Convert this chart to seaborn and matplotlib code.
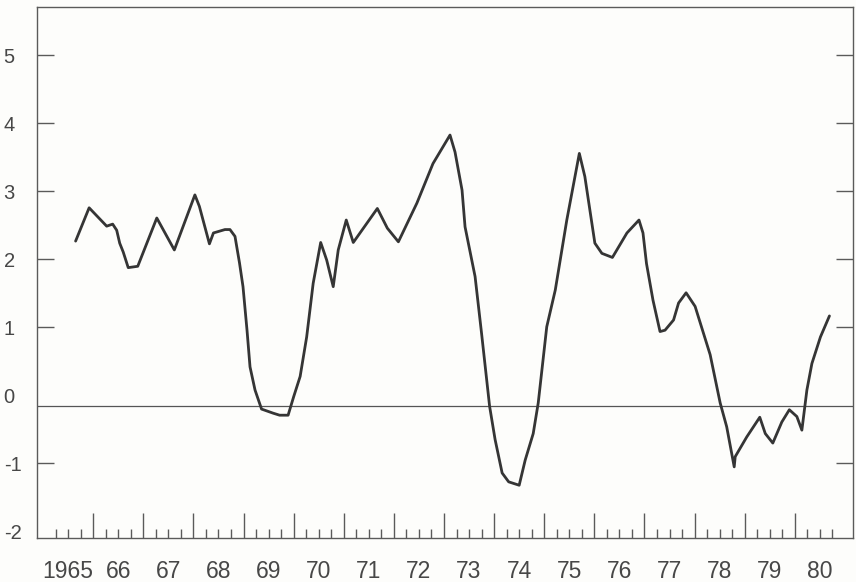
import numpy as np
import pandas as pd
import matplotlib
matplotlib.use("Agg")
import matplotlib.pyplot as plt
import seaborn as sns

# Series: decimal year and value
years = [1965.65, 1965.92, 1966.27, 1966.39, 1966.47, 1966.53, 1966.60, 1966.70,
         1966.89, 1967.27, 1967.62, 1968.03, 1968.12, 1968.32, 1968.40, 1968.63,
         1968.73, 1968.83, 1968.92, 1968.99, 1969.07, 1969.13, 1969.23, 1969.36,
         1969.59, 1969.72, 1969.89, 1970.00, 1970.13, 1970.26, 1970.39, 1970.54,
         1970.66, 1970.79, 1970.89, 1971.05, 1971.19, 1971.67, 1971.87, 1972.09,
         1972.46, 1972.78, 1973.12, 1973.22, 1973.36, 1973.42, 1973.62, 1973.75,
         1973.91, 1974.02, 1974.16, 1974.29, 1974.50, 1974.62, 1974.78, 1974.88,
         1975.05, 1975.22, 1975.45, 1975.70, 1975.81, 1976.01, 1976.15, 1976.36,
         1976.65, 1976.89, 1976.97, 1977.04, 1977.17, 1977.31, 1977.41, 1977.58,
         1977.68, 1977.83, 1978.01, 1978.31, 1978.51, 1978.64, 1978.79, 1978.81,
         1979.04, 1979.30, 1979.41, 1979.56, 1979.74, 1979.89, 1980.04, 1980.14,
         1980.24, 1980.34, 1980.51, 1980.69]
values = [2.27, 2.76, 2.49, 2.52, 2.43, 2.24, 2.11, 1.88,
          1.90, 2.61, 2.14, 2.95, 2.78, 2.23, 2.39, 2.44,
          2.44, 2.34, 1.95, 1.60, 0.96, 0.42, 0.08, -0.20,
          -0.26, -0.29, -0.29, -0.02, 0.28, 0.86, 1.65, 2.25,
          1.99, 1.60, 2.14, 2.58, 2.25, 2.75, 2.46, 2.26,
          2.83, 3.41, 3.83, 3.58, 3.02, 2.48, 1.75, 0.91,
          -0.16, -0.65, -1.14, -1.27, -1.32, -0.95, -0.56, -0.11,
          1.01, 1.55, 2.58, 3.56, 3.22, 2.24, 2.09, 2.03,
          2.39, 2.58, 2.39, 1.94, 1.40, 0.94, 0.96, 1.11,
          1.36, 1.51, 1.31, 0.60, -0.11, -0.46, -1.05, -0.90,
          -0.61, -0.32, -0.56, -0.70, -0.39, -0.21, -0.31, -0.51,
          0.08, 0.47, 0.86, 1.17]

year_labels = ["1965", "66", "67", "68", "69", "70", "71", "72",
               "73", "74", "75", "76", "77", "78", "79", "80"]
first_year = 1965
y_tick_values = [5, 4, 3, 2, 1, -1]
y_plain_labels = [0, -2]
reference_level = -0.15

df = pd.DataFrame({"year": years, "value": values})

sns.set_theme(style="ticks")
plt.rcParams["font.family"] = ["Liberation Sans", "DejaVu Sans"]

ink = "#353535"
frame = "#5a5a5a"
paper = "#fdfdfb"
text_col = "#474747"

fig = plt.figure(figsize=(8.56, 5.82), dpi=100, facecolor=paper)
ax = fig.add_axes([37 / 856, 1 - 538 / 582, (853 - 37) / 856, (538 - 7) / 582])
ax.set_facecolor(paper)

sns.lineplot(data=df, x="year", y="value", sort=False, estimator=None,
             color=ink, linewidth=2.0, ax=ax)
ax.axhline(reference_level, color="#555555", linewidth=0.9, zorder=1)

ax.set_xlim(1964.88, 1981.16)
ax.set_ylim(-2.096, 5.713)

for side in ["left", "right", "top", "bottom"]:
    ax.spines[side].set_visible(True)
    ax.spines[side].set_color(frame)
    ax.spines[side].set_linewidth(1.0)

# x axis: year boundaries as long ticks, quarters as short ticks,
# labels centred in each year
n_years = len(year_labels)
major_x = [first_year + i for i in range(1, n_years)]
minor_x, minor_lab = [], []
for i, lab in enumerate(year_labels):
    for q, txt in ((0.25, ""), (0.5, lab), (0.75, "")):
        minor_x.append(first_year + i + q)
        minor_lab.append(txt)
ax.set_xticks(major_x)
ax.set_xticklabels([""] * len(major_x))
ax.set_xticks(minor_x, minor=True)
ax.set_xticklabels(minor_lab, minor=True)
ax.tick_params(axis="x", which="major", direction="in", length=18,
               width=1.0, color=frame, bottom=True, top=False)
ax.tick_params(axis="x", which="minor", direction="in", length=6.5,
               width=1.0, color=frame, bottom=True, top=False,
               labelsize=16.5, labelcolor=text_col, pad=16)

# y axis: inward ticks on both sides, labels left-aligned at the margin
ax.set_yticks(y_tick_values)
ax.set_yticklabels([str(v) for v in y_tick_values])
ax.set_yticks(y_plain_labels, minor=True)
ax.set_yticklabels([str(v) for v in y_plain_labels], minor=True)
ax.tick_params(axis="y", which="major", direction="in", length=12,
               width=1.0, color=frame, left=True, right=True,
               labelleft=True, labelright=False,
               labelsize=14.5, labelcolor=text_col, pad=24)
ax.tick_params(axis="y", which="minor", length=0, left=True, right=False,
               labelsize=14.5, labelcolor=text_col, pad=24)
for lab in ax.get_yticklabels() + ax.get_yticklabels(minor=True):
    lab.set_horizontalalignment("left")

ax.set_xlabel("")
ax.set_ylabel("")

fig.savefig("out.png", dpi=100, facecolor=paper)
